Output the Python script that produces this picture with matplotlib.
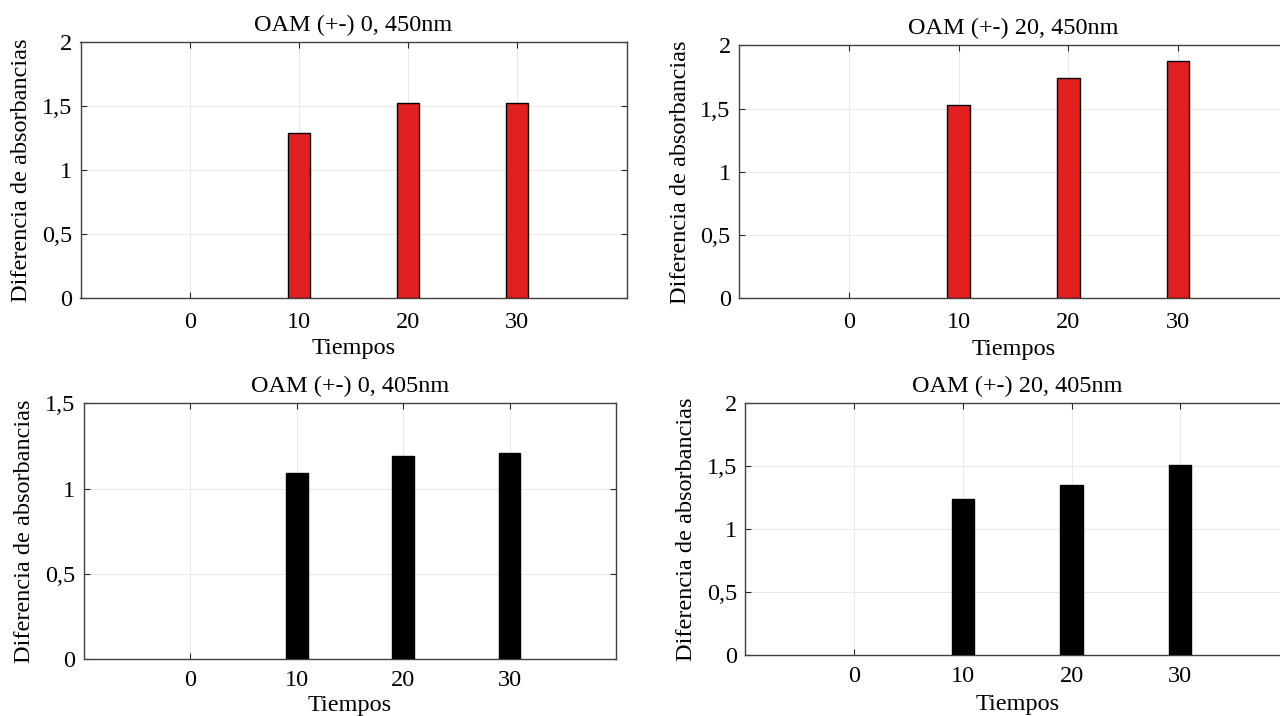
import matplotlib
matplotlib.use("Agg")
import matplotlib.pyplot as plt
from matplotlib.ticker import FuncFormatter

plt.rcParams['font.family'] = ['Liberation Serif', 'DejaVu Serif']

tiempos = [0, 10, 20, 30]
oam0_450 = [0.0, 1.29, 1.52, 1.52]
oam20_450 = [0.0, 1.53, 1.74, 1.88]
oam0_405 = [0.0, 1.09, 1.19, 1.21]
oam20_405 = [0.0, 1.24, 1.35, 1.51]

titles = ["OAM (+-) 0, 450nm", "OAM (+-) 20, 450nm", "OAM (+-) 0, 405nm", "OAM (+-) 20, 405nm"]
xlabel = "Tiempos"
ylabel = "Diferencia de absorbancias"

W, H = 1280, 716
fig = plt.figure(figsize=(W / 100, H / 100), dpi=100)

def px_axes(left, right, top, bottom):
    return fig.add_axes([left / W, 1 - bottom / H, (right - left) / W, (bottom - top) / H])

def fmt(v, pos):
    return ("%g" % v).replace(".", ",")

# (axes, values, title, colour, ymax, xtick pad, xlabel pad)
panels = [
    (px_axes(80.5, 626.5, 42, 298), oam0_450, titles[0], "#E32020", 2.0, 10, 4),
    (px_axes(739, 1288, 45.5, 298.3), oam20_450, titles[1], "#E32020", 2.0, 10, 4),
    (px_axes(83.7, 616, 403.3, 659), oam0_405, titles[2], "black", 1.5, 8, 3),
    (px_axes(745.3, 1289, 402.7, 655), oam20_405, titles[3], "black", 2.0, 8, 5),
]

fs = 17.5
for ax, vals, title, color, ymax, xpad, lpad in panels:
    ax.grid(True, color="#e8e8e8", linewidth=0.7)
    ax.set_axisbelow(True)
    xs = [t for t, v in zip(tiempos, vals) if v > 0]
    hs = [v for v in vals if v > 0]
    ax.bar(xs, hs, width=2.05, color=color, edgecolor="black", linewidth=1.0, zorder=3)
    ax.set_xlim(-10, 40)
    ax.set_ylim(0, ymax)
    ax.set_xticks(tiempos)
    ax.set_yticks([v * 0.5 for v in range(int(ymax / 0.5) + 1)])
    ax.yaxis.set_major_formatter(FuncFormatter(fmt))
    ax.tick_params(direction="in", length=4, width=0.8, top=True, right=True,
                   labelsize=fs, color="#262626")
    ax.tick_params(axis="x", pad=xpad)
    ax.tick_params(axis="y", pad=6)
    for sp in ax.spines.values():
        sp.set_color("#404040")
        sp.set_linewidth(1.0)
    ax.set_title(title, fontsize=fs, pad=8)
    ax.set_xlabel(xlabel, fontsize=fs, labelpad=lpad)
    ax.set_ylabel(ylabel, fontsize=fs, labelpad=7)

fig.savefig("out.png", dpi=100)
